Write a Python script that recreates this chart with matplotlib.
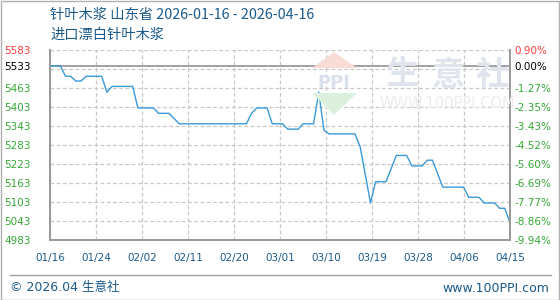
import matplotlib.pyplot as plt
import numpy as np
from matplotlib.patches import Polygon, Rectangle

plt.rcParams["font.family"] = ["DejaVu Sans", "Noto Sans CJK SC"]

title = "针叶木浆 山东省 2026-01-16 - 2026-04-16"
subtitle = "进口漂白针叶木浆"

# daily price, one value per day from 01/16 to 04/15
prices = [
    5533, 5533, 5533, 5500, 5500, 5485, 5485, 5500, 5500, 5500,
    5500, 5450, 5468, 5468, 5468, 5468, 5468, 5400, 5400, 5400,
    5400, 5383, 5383, 5383, 5367, 5350, 5350, 5350, 5350, 5350,
    5350, 5350, 5350, 5350, 5350, 5350, 5350, 5350, 5350, 5383,
    5400, 5400, 5400, 5350, 5350, 5350, 5333, 5333, 5333, 5350,
    5350, 5350, 5450, 5330, 5318, 5318, 5318, 5318, 5318, 5318,
    5278, 5190, 5100, 5167, 5167, 5167, 5208, 5250, 5250, 5250,
    5217, 5217, 5217, 5235, 5235, 5192, 5150, 5150, 5150, 5150,
    5150, 5118, 5118, 5118, 5100, 5100, 5100, 5083, 5083, 5038,
]
date_labels = ["01/16", "01/24", "02/02", "02/11", "02/20", "03/01",
               "03/10", "03/19", "03/28", "04/06", "04/15"]

base = 5533
y_top = 5583
y_bottom = 4983
y_ticks = [5583, 5533, 5463, 5403, 5343, 5283, 5223, 5163, 5103, 5043, 4983]
grid_levels = [5583, 5523, 5463, 5403, 5343, 5283, 5223, 5163, 5103, 5043, 4983]

blue_text = "#1b5a8a"
red = "#ff3b3b"
green = "#35a835"

W, H = 560, 300


def fx(px):
    return px / W


def fy(py):
    return 1 - py / H


fig = plt.figure(figsize=(5.6, 3.0), dpi=100)
fig.patch.set_facecolor("white")
ax = fig.add_axes([fx(50), 60 / H, 460 / W, 190 / H])

days = np.arange(len(prices))
n = len(prices) - 1

# watermark (logo + site name), drawn behind the axes
wm = dict(transform=fig.transFigure, zorder=0)
fig.patches.append(Polygon([[fx(312), fy(68)], [fx(334), fy(52)], [fx(357), fy(68)]],
                           closed=True, fc="#f9dcd6", ec="none", **wm))
fig.patches.append(Polygon([[fx(312), fy(93)], [fx(334), fy(115)], [fx(357), fy(93)]],
                           closed=True, fc="#dcf0dd", ec="none", **wm))
fig.text(fx(334), fy(83), "PPI", ha="center", va="center", fontsize=13, fontweight="bold",
         color="#dbe1ec", zorder=0)
for ch, cx in zip("生意社", [403, 448, 492]):
    fig.text(fx(cx), fy(75), ch, ha="center", va="center", fontsize=24, fontweight="bold",
             color="#e0e4ed", family=["Noto Sans CJK SC"], zorder=0)
fig.text(fx(447), fy(104), "WWW.100PPI.COM", ha="center", va="center", fontsize=10.5,
         color="#ececec", zorder=0)
ax.set_facecolor("none")

for lv in grid_levels:
    ax.axhline(lv, color="#c8c8c8", lw=0.9, ls=(0, (3, 2)), zorder=1)
tick_pos = [i * n / 10 for i in range(11)]
for xp in tick_pos:
    ax.axvline(xp, color="#c8c8c8", lw=0.9, ls=(0, (3, 2)), zorder=1)
ax.axhline(base, color="#9a9a9a", lw=1.3, zorder=2)

ax.plot(days, prices, color="#3a9ad9", lw=1.0, zorder=3)

ax.set_xlim(0, n)
ax.set_ylim(y_bottom, y_top)
ax.set_xticks(tick_pos)
ax.set_xticklabels(date_labels)
ax.tick_params(axis="x", length=0, pad=9, labelsize=7.5, labelcolor=blue_text)

ax.set_yticks(y_ticks)
ax.set_yticklabels([str(v) for v in y_ticks])
ax.tick_params(axis="y", length=0, pad=33, labelsize=7.5)
for lab, v in zip(ax.get_yticklabels(), y_ticks):
    lab.set_horizontalalignment("left")
    lab.set_color(red if v > base else ("black" if v == base else green))

ax2 = ax.twinx()
ax2.set_ylim(y_bottom, y_top)
ax2.set_yticks(y_ticks)
ax2.set_yticklabels(["{:.2f}%".format((v - base) / base * 100) for v in y_ticks])
ax2.tick_params(axis="y", length=0, pad=3, labelsize=7.5)
for lab, v in zip(ax2.get_yticklabels(), y_ticks):
    lab.set_color(red if v > base else ("black" if v == base else green))

for a in (ax, ax2):
    a.spines["top"].set_visible(False)
    for s in ("left", "right", "bottom"):
        a.spines[s].set_color("#9a9a9a")
        a.spines[s].set_linewidth(1.3)

fig.text(fx(50), fy(15), title, ha="left", va="center", fontsize=10.3, color=blue_text,
         family=["Noto Sans CJK SC", "DejaVu Sans"])
fig.text(fx(50), fy(35), subtitle, ha="left", va="center", fontsize=10.3, color=blue_text,
         family=["Noto Sans CJK SC", "DejaVu Sans"])

# footer
fig.add_artist(plt.Line2D([fx(10), fx(551)], [fy(275), fy(275)], color="#a0a0a0", lw=1.0))
fig.text(fx(10), fy(287), "© 2026.04 生意社", ha="left", va="center", fontsize=9,
         color=blue_text, family=["DejaVu Sans", "Noto Sans CJK SC"])
fig.text(fx(549), fy(288), "www.100PPI.com", ha="right", va="center", fontsize=9,
         color=blue_text)
fig.add_artist(Rectangle((fx(0.5), 0.5 / H), 558 / W, 299 / H, transform=fig.transFigure,
                         fill=False, ec="#b0b0b0", lw=1.0))

fig.savefig("out.png", dpi=100)
